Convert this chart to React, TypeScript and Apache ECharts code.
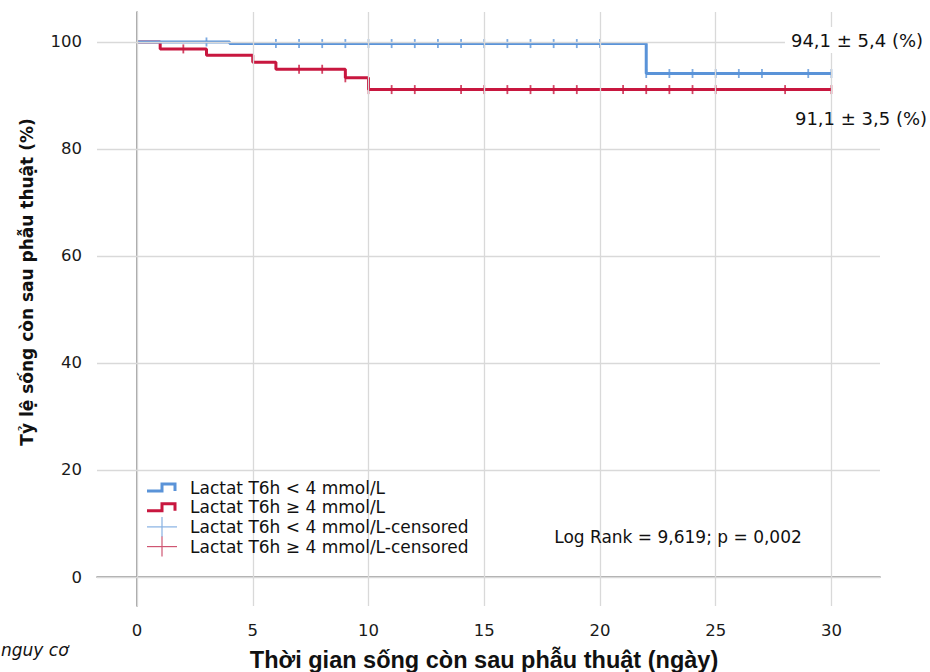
import { useEffect, useRef } from "react";
import * as echarts from "echarts";

const xTickValues = [0, 5, 10, 15, 20, 25, 30];
const yTickValues = [0, 20, 40, 60, 80, 100];

const lowTimes = [0, 4, 22, 30];
const lowSurvival = [100, 99.7, 94.1, 94.1];
const highTimes = [0, 1, 3, 5, 6, 9, 10, 30];
const highSurvival = [100, 98.7, 97.5, 96.2, 94.9, 93.3, 91.1, 91.1];

const lowCensoredTimes = [3, 6, 7, 8, 9, 10, 11, 12, 13, 14, 15, 16, 17, 18, 19, 20, 22, 23, 24, 25, 26, 27, 29, 30];
const highCensoredTimes = [2, 7, 8, 9, 10, 11, 12, 14, 15, 16, 17, 18, 19, 21, 22, 23, 24, 25, 28, 30];

const legendLabels = [
  "Lactat T6h < 4 mmol/L",
  "Lactat T6h ≥ 4 mmol/L",
  "Lactat T6h < 4 mmol/L-censored",
  "Lactat T6h ≥ 4 mmol/L-censored",
];
const lowAnnotation = "94,1 ± 5,4 (%)";
const highAnnotation = "91,1 ± 3,5 (%)";
const logRankText = "Log Rank = 9,619; p = 0,002";
const xTitle = "Thời gian sống còn sau phẫu thuật (ngày)";
const yTitle = "Tỷ lệ sống còn sau phẫu thuật (%)";
const cornerText = "nguy cơ";

const BLUE = "#5a93d8";
const RED = "#c8173f";
const BLUE_LIGHT = "#86b1e2";
const RED_LIGHT = "#cf5672";
const FONT = "'Liberation Sans', Arial, sans-serif";
const WIDE = "'DejaVu Sans', sans-serif";

function survivalAt(times: number[], surv: number[], t: number) {
  let v = surv[0];
  for (let i = 0; i < times.length; i++) if (times[i] <= t) v = surv[i];
  return v;
}

export default function App() {
  const ref = useRef<HTMLDivElement>(null);
  useEffect(() => {
    if (!ref.current) return;
    const chart = echarts.init(ref.current, null, { renderer: "svg" });

    const legendGraphics: any[] = [
      { type: "rect", shape: { x: 145, y: 472, width: 340, height: 92 }, style: { fill: "#fff" }, z: 5 },
    ];
    const rowY = (i: number) => 487.5 + i * 19.7;
    [BLUE, RED].forEach((c, k) => {
      const y = rowY(k);
      legendGraphics.push({
        type: "polyline",
        shape: { points: [[147, y + 3.5], [162, y + 3.5], [162, y - 3.5], [175, y - 3.5], [175, y + 3.5]] },
        style: { stroke: c, lineWidth: 3, fill: null },
        z: 6,
      });
    });
    [BLUE_LIGHT, RED_LIGHT].forEach((c, k) => {
      const y = rowY(2 + k);
      legendGraphics.push({ type: "line", shape: { x1: 147, y1: y, x2: 177, y2: y }, style: { stroke: c, lineWidth: 1.2 }, z: 6 });
      legendGraphics.push({ type: "line", shape: { x1: 162, y1: y - 10, x2: 162, y2: y + 10 }, style: { stroke: c, lineWidth: 1.2 }, z: 6 });
    });
    legendLabels.forEach((t, i) => {
      legendGraphics.push({
        type: "text",
        x: 190,
        y: rowY(i),
        style: { text: t, fill: "#111", font: `17px ${WIDE}`, align: "left", verticalAlign: "middle" },
        z: 6,
      });
    });

    const gridLineStyle = { color: "#d9d9d9", width: 1.3, type: "solid" as const };

    chart.setOption({
      animation: false,
      backgroundColor: "#fff",
      grid: { left: 97, right: 50, top: 12, bottom: 66, containLabel: false },
      xAxis: {
        type: "value",
        min: -1.73,
        max: 32.1,
        axisLine: { show: true, lineStyle: { color: "#8a8a8a", width: 1.5 } },
        axisTick: { show: false, customValues: xTickValues },
        splitLine: { show: false },
        axisLabel: { customValues: xTickValues, color: "#1a1a1a", fontSize: 16.5, fontFamily: WIDE, margin: 16 },
      },
      yAxis: {
        type: "value",
        min: -5.42,
        max: 105.6,
        axisLine: { show: true, lineStyle: { color: "#8a8a8a", width: 1.5 } },
        axisTick: { show: false, customValues: yTickValues },
        splitLine: { show: false },
        axisLabel: { customValues: yTickValues, color: "#1a1a1a", fontSize: 16.5, fontFamily: WIDE, margin: 15 },
      },
      series: [
        {
          type: "line",
          data: [],
          silent: true,
          z: 1,
          markLine: {
            silent: true,
            symbol: ["none", "none"],
            label: { show: false },
            lineStyle: gridLineStyle,
            data: [
              ...yTickValues.map((v) => ({ yAxis: v })),
              ...xTickValues.map((v) => ({ xAxis: v })),
            ],
          },
        },
        {
          type: "line",
          step: "end",
          data: highTimes.map((t, i) => [t, highSurvival[i]]),
          showSymbol: false,
          lineStyle: { color: RED, width: 3 },
          z: 3,
        },
        {
          type: "line",
          step: "end",
          data: lowTimes.map((t, i) => [t, lowSurvival[i]]),
          showSymbol: false,
          lineStyle: { color: BLUE, width: 3 },
          z: 3,
        },
        {
          type: "scatter",
          data: highCensoredTimes.map((t) => [t, survivalAt(highTimes, highSurvival, t)]),
          symbol: "rect",
          symbolSize: [1.8, 9],
          itemStyle: { color: RED },
          z: 4,
        },
        {
          type: "scatter",
          data: lowCensoredTimes.map((t) => [t, survivalAt(lowTimes, lowSurvival, t)]),
          symbol: "rect",
          symbolSize: [1.8, 9],
          itemStyle: { color: BLUE },
          z: 4,
        },
      ],
      graphic: [
        ...legendGraphics,
        {
          type: "text",
          x: 857,
          y: 40,
          style: {
            text: lowAnnotation,
            fill: "#111",
            font: `18px ${WIDE}`,
            align: "center",
            verticalAlign: "middle",
            backgroundColor: "#fff",
            padding: [4, 6],
          },
          z: 6,
        },
        {
          type: "text",
          x: 861,
          y: 118,
          style: { text: highAnnotation, fill: "#111", font: `18px ${WIDE}`, align: "center", verticalAlign: "middle" },
          z: 6,
        },
        {
          type: "text",
          x: 678,
          y: 537,
          style: { text: logRankText, fill: "#111", font: `17px ${WIDE}`, align: "center", verticalAlign: "middle" },
          z: 6,
        },
        {
          type: "text",
          x: 484,
          y: 660,
          style: { text: xTitle, fill: "#111", font: `bold 23.5px ${FONT}`, align: "center", verticalAlign: "middle" },
          z: 6,
        },
        {
          type: "text",
          x: 27,
          y: 282,
          rotation: Math.PI / 2,
          style: { text: yTitle, fill: "#111", font: `bold 17px ${WIDE}`, align: "center", verticalAlign: "middle" },
          z: 6,
        },
        {
          type: "text",
          x: 1,
          y: 650,
          style: { text: cornerText, fill: "#111", font: `italic 17px ${WIDE}`, align: "left", verticalAlign: "middle" },
          z: 6,
        },
      ],
    });
    return () => chart.dispose();
  }, []);
  return <div ref={ref} style={{ width: 930, height: 672, position: "absolute", left: 0, top: 0 }} />;
}
